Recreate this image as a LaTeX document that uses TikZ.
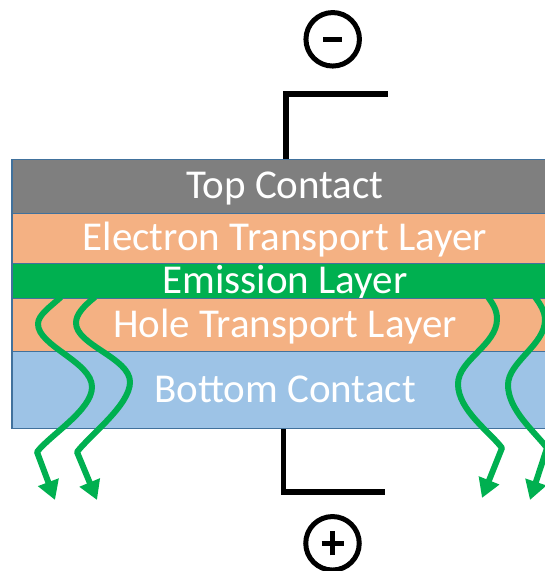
\documentclass[tikz,border=0pt]{standalone}
\usepackage{fontspec}
\setmainfont{Carlito}
\usetikzlibrary{arrows.meta}
\definecolor{cgray}{HTML}{7F7F7F}
\definecolor{corange}{HTML}{F4B183}
\definecolor{cgreen}{HTML}{00B050}
\definecolor{cblue}{HTML}{9DC3E6}
\definecolor{cborder}{HTML}{41719C}
\tikzset{
  layer/.style={draw=cborder, line width=1.4pt, minimum width=546pt, anchor=north,
    inner sep=0pt, text=white, font=\fontsize{41}{48}\selectfont,
    text height=25pt, text depth=0pt},
  wire/.style={line width=5.5pt, draw=black},
  sign/.style={circle, draw=black, line width=5pt, minimum size=53.5pt, inner sep=0pt},
  bar/.style={line width=4.6pt, draw=black},
  photon/.style={draw=cgreen, line width=6pt, line join=round,
    -{Triangle[width=21pt,length=19pt]}}
}
\begin{document}
\begin{tikzpicture}[x=1pt,y=-1pt]
\useasboundingbox (0,0) rectangle (545,571);
\clip (0,0) rectangle (545,571);
% layers
\node[layer, fill=cgray,   minimum height=53.5pt] (top)  at (285,159)   {Top Contact};
\node[layer, fill=corange, minimum height=50pt]   (etl)  at (285,212.5) {Electron Transport Layer};
\node[layer, fill=cgreen,  minimum height=35.5pt] (eml)  at (285,262.5) {Emission Layer};
\node[layer, fill=corange, minimum height=52.5pt] (htl)  at (285,298)   {Hole Transport Layer};
\node[layer, fill=cblue,   minimum height=77.5pt] (bot)  at (285,350.5) {Bottom Contact};
% wires
\coordinate (tw1) at (286,94);
\coordinate (tw2) at (388,94);
\draw[wire] (top.north -| tw1) -- (tw1) -- (tw2);
\coordinate (bw1) at (283.7,492);
\coordinate (bw2) at (385,492);
\draw[wire] (bot.south -| bw1) -- (bw1) -- (bw2);
% signs
\node[sign] (minus) at (332.7,39.3) {};
\draw[bar] ([xshift=-9.5pt]minus.center) -- ([xshift=9.5pt]minus.center);
\node[sign] (plus) at (332.5,543.3) {};
\draw[bar] ([xshift=-11pt]plus.center) -- ([xshift=11pt]plus.center);
\draw[bar] ([yshift=-12pt]plus.center) -- ([yshift=12pt]plus.center);
% emitted light
\coordinate (a1) at (61,297);
\coordinate (a1t) at (55,500);
\draw[photon] (a1) .. controls (50,307) and (38,315) .. (38,324)
  .. controls (38,346) and (92,362) .. (92,387)
  .. controls (92,410) and (50,435) .. (37,452) -- (a1t);
\coordinate (a2) at (95,297);
\coordinate (a2t) at (97,500);
\draw[photon] (a2) .. controls (84,306) and (76,314) .. (76,323)
  .. controls (76,345) and (130,358) .. (130,382)
  .. controls (130,405) and (90,435) .. (77,452) -- (a2t);
\coordinate (a3) at (488,297);
\coordinate (a3t) at (482,498);
\draw[photon] (a3) .. controls (493,304) and (497,310) .. (497,319)
  .. controls (497,345) and (458,360) .. (458,384)
  .. controls (458,410) and (490,432) .. (502,448) -- (a3t);
\coordinate (a4) at (535,297);
\coordinate (a4t) at (530,500);
\draw[photon] (a4) .. controls (541,305) and (545,312) .. (545,320)
  .. controls (545,345) and (508,362) .. (508,385)
  .. controls (508,410) and (535,432) .. (547,448) -- (a4t);
\end{tikzpicture}
\end{document}
